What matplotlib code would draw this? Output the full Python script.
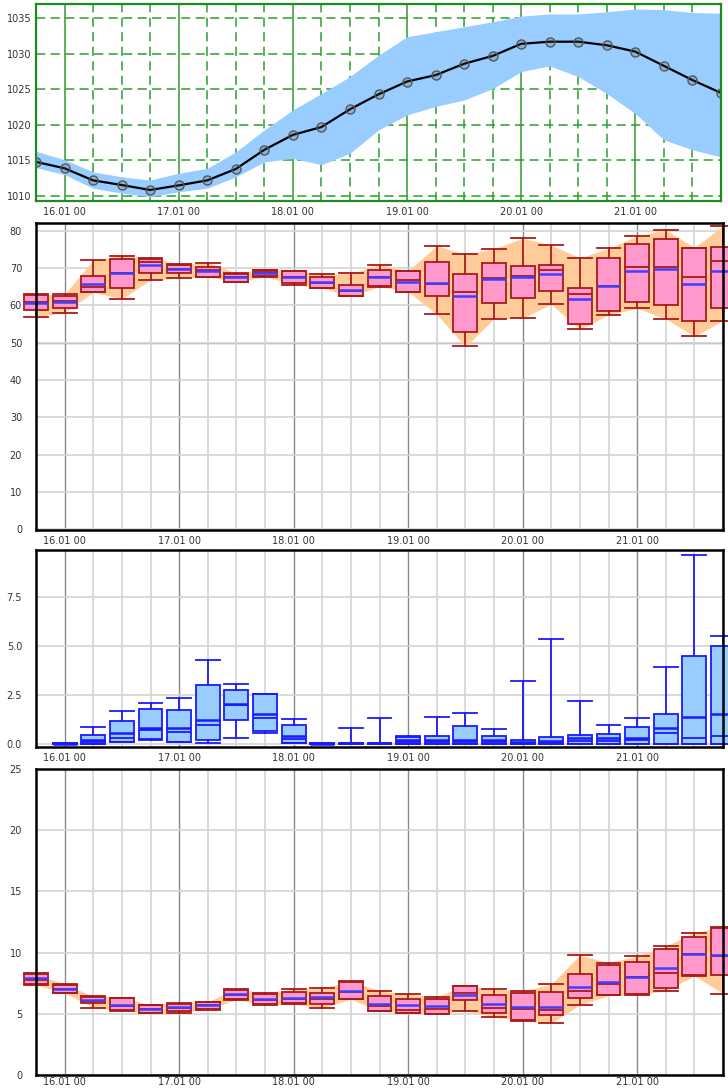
import numpy as np
import pandas as pd
import matplotlib
matplotlib.use('Agg')
import matplotlib.pyplot as plt
import matplotlib.dates as mdates

# Время прогноза: каждые 6 часов
times = pd.date_range('2024-01-15 18:00', '2024-01-21 18:00', freq='6h')

# Давление: среднее и разброс ансамбля
pres_mean = [1014.8, 1013.9, 1012.2, 1011.55, 1010.85, 1011.5, 1012.2, 1013.8, 1016.5, 1018.6,
             1019.7, 1022.2, 1024.3, 1026.1, 1027.0, 1028.6, 1029.7, 1031.4, 1031.7, 1031.7,
             1031.2, 1030.3, 1028.3, 1026.3, 1024.5]
pres_upper = [1016.3, 1015.1, 1013.4, 1012.7, 1012.25, 1013.2, 1013.9, 1016.2, 1019.3, 1022.1,
              1024.4, 1026.8, 1029.8, 1032.4, 1033.1, 1033.8, 1034.5, 1035.3, 1035.6, 1035.6,
              1035.9, 1036.3, 1036.2, 1035.8, 1035.7]
pres_lower = [1014.0, 1013.0, 1011.1, 1010.4, 1009.9, 1010.6, 1011.1, 1012.7, 1014.8, 1015.3,
              1014.4, 1016.0, 1019.3, 1021.4, 1022.6, 1023.5, 1025.1, 1027.5, 1028.3, 1026.8,
              1024.4, 1021.6, 1017.9, 1016.5, 1015.5]

# Влажность
hum_q1 = [58.8, 59.3, 63.5, 64.8, 68.6, 68.6, 67.7, 66.4, 67.9, 66.0, 64.8, 62.6, 65.3,
          63.7, 62.4, 52.8, 60.6, 61.9, 63.9, 55.0, 58.6, 60.8, 60.1, 55.7, 59.4]
hum_q3 = [62.7, 62.6, 67.9, 72.4, 72.5, 70.9, 70.4, 68.5, 69.5, 69.1, 67.7, 65.5, 69.5,
          69.1, 71.6, 68.5, 71.3, 70.7, 70.9, 64.8, 72.7, 76.5, 77.7, 75.5, 75.8]
hum_min = [56.9, 58.1, 63.5, 61.8, 66.8, 67.3, 67.7, 66.2, 67.7, 65.6, 64.6, 62.6, 65.0,
           63.7, 57.6, 49.0, 56.4, 56.6, 60.3, 53.6, 57.5, 59.2, 56.4, 51.7, 55.9]
hum_max = [63.0, 63.0, 72.2, 73.3, 72.8, 71.0, 71.5, 68.7, 69.6, 69.3, 68.3, 68.6, 70.9,
           69.3, 76.0, 73.7, 75.2, 78.0, 76.2, 72.7, 75.3, 78.6, 80.3, 75.5, 81.4]
hum_mean = [60.6, 61.0, 65.7, 68.6, 70.9, 69.7, 69.3, 67.5, 68.8, 67.7, 66.2, 64.2, 67.5,
            66.4, 66.0, 62.6, 67.1, 67.5, 68.5, 61.8, 65.3, 69.1, 69.8, 65.8, 69.3]
hum_med = [60.8, 61.2, 65.0, 68.8, 71.6, 69.9, 69.5, 67.6, 68.9, 67.5, 66.0, 64.0, 67.7,
           66.8, 65.8, 63.5, 67.4, 67.8, 69.5, 63.0, 65.3, 70.4, 70.2, 67.5, 71.8]

# Осадки (с 16.01 00)
prec_q1 = [0.0, 0.0, 0.12, 0.24, 0.12, 0.2, 1.22, 0.66, 0.07, 0.0, 0.0, 0.0,
           0.0, 0.0, 0.0, 0.0, 0.0, 0.0, 0.0, 0.0, 0.0, 0.0, 0.0, 0.0]
prec_q3 = [0.04, 0.46, 1.17, 1.77, 1.73, 3.0, 2.75, 2.53, 0.97, 0.04, 0.05, 0.05,
           0.37, 0.42, 0.92, 0.41, 0.2, 0.34, 0.46, 0.49, 0.85, 1.53, 4.5, 4.99]
prec_min = [0.0, 0.0, 0.1, 0.22, 0.1, 0.07, 0.32, 0.58, 0.05, 0.0, 0.0, 0.0,
            0.0, 0.0, 0.0, 0.0, 0.0, 0.0, 0.0, 0.0, 0.0, 0.0, 0.0, 0.0]
prec_max = [0.04, 0.88, 1.68, 2.1, 2.36, 4.28, 3.04, 2.53, 1.26, 0.04, 0.83, 1.34,
            0.41, 1.39, 1.6, 0.76, 3.23, 5.35, 2.19, 0.97, 1.31, 3.94, 9.63, 5.52]
prec_mean = [0.02, 0.2, 0.55, 0.83, 0.83, 1.22, 2.04, 1.53, 0.42, 0.02, 0.03, 0.03,
             0.2, 0.2, 0.2, 0.2, 0.08, 0.15, 0.32, 0.29, 0.32, 0.83, 1.36, 1.53]
prec_med = [0.01, 0.12, 0.3, 0.71, 0.63, 0.97, 2.0, 1.31, 0.25, 0.01, 0.01, 0.01,
            0.1, 0.1, 0.1, 0.1, 0.05, 0.05, 0.15, 0.15, 0.2, 0.54, 0.29, 0.42]

# Ветер
wind_q1 = [7.41, 6.73, 5.92, 5.29, 5.1, 5.24, 5.37, 6.19, 5.78, 5.86, 5.84, 6.24, 5.24,
           5.1, 5.02, 6.11, 5.1, 4.48, 4.89, 6.32, 6.54, 6.6, 7.08, 8.14, 8.17]
wind_q3 = [8.22, 7.33, 6.41, 6.27, 5.7, 5.84, 5.97, 6.92, 6.65, 6.79, 6.73, 7.63, 6.46,
           6.19, 6.19, 7.27, 6.51, 6.68, 6.79, 8.22, 8.96, 9.26, 10.3, 11.29, 11.97]
wind_min = [7.35, 6.7, 5.51, 5.25, 5.05, 5.1, 5.35, 6.15, 5.75, 5.8, 5.46, 6.2, 5.2,
            5.05, 5.0, 5.24, 4.75, 4.42, 4.23, 5.73, 6.5, 6.55, 6.87, 8.1, 6.65]
wind_max = [8.3, 7.4, 6.45, 6.3, 5.75, 5.9, 6.0, 7.0, 6.73, 7.0, 7.08, 7.7, 6.87,
            6.6, 6.4, 7.3, 7.0, 6.87, 7.41, 9.8, 9.17, 9.72, 10.53, 11.62, 12.1]
wind_mean = [7.9, 7.06, 6.13, 5.73, 5.43, 5.56, 5.73, 6.6, 6.19, 6.27, 6.38, 6.87, 5.78,
             5.7, 5.65, 6.51, 5.78, 5.56, 5.59, 7.19, 7.63, 8.0, 8.71, 9.9, 9.8]
wind_med = [7.8, 7.0, 6.05, 5.65, 5.4, 5.5, 5.7, 6.55, 6.15, 6.2, 6.19, 6.8, 5.6,
            5.3, 5.38, 6.7, 5.5, 5.37, 5.3, 6.87, 7.41, 8.0, 8.36, 9.85, 9.7]

x = mdates.date2num(times)
box_w = 5 / 24  # ширина ящика, дни

plt.rcParams['font.family'] = 'DejaVu Sans'
fig = plt.figure(figsize=(7.28, 10.89), dpi=100)

left, width = 36 / 728, 687 / 728
ax1 = fig.add_axes([left, 1 - 201 / 1089, 685 / 728, 197 / 1089])
ax2 = fig.add_axes([left, 1 - 530 / 1089, width, 307 / 1089])
ax3 = fig.add_axes([left, 1 - 747 / 1089, width, 197 / 1089])
ax4 = fig.add_axes([left, 1 - 1075 / 1089, width, 306 / 1089])


def setup_axis(ax, frame_color, frame_lw, ypad=10, xpad=4):
    ax.set_xlim(x[0], x[-1])
    ax.xaxis.set_major_locator(mdates.DayLocator())
    ax.xaxis.set_minor_locator(mdates.HourLocator(byhour=[6, 12, 18]))
    ax.xaxis.set_major_formatter(mdates.DateFormatter('%d.%m %H'))
    ax.tick_params(which='both', length=0, labelsize=7, labelcolor='#333333')
    ax.tick_params(axis='x', pad=xpad)
    ax.tick_params(axis='y', pad=ypad)
    ax.set_axisbelow(True)
    for s in ax.spines.values():
        s.set_color(frame_color)
        s.set_linewidth(frame_lw)
        s.set_zorder(5)


def draw_boxes(ax, pos, q1, q3, lo, hi, med, mean, face, edge, mean_color, band=None):
    if band is not None:
        ax.fill_between(pos, lo, hi, color=band, lw=0, zorder=1)
    stats = [dict(q1=a, q3=b, whislo=c, whishi=d, med=e, mean=f)
             for a, b, c, d, e, f in zip(q1, q3, lo, hi, med, mean)]
    art = ax.bxp(stats, positions=pos, widths=box_w, capwidths=box_w,
                 patch_artist=True, showmeans=True, meanline=True, showfliers=False,
                 manage_ticks=False, zorder=3,
                 boxprops=dict(facecolor=face, edgecolor=edge, linewidth=1.3),
                 whiskerprops=dict(color=edge, linewidth=1.3),
                 capprops=dict(color=edge, linewidth=1.3),
                 medianprops=dict(color=edge, linewidth=1.3),
                 meanprops=dict(color=mean_color, linestyle='-', linewidth=1.8))
    for key in art:
        for a in art[key]:
            a.set_clip_on(False)


def gray_grid(ax):
    ax.grid(which='major', axis='x', color='#8a8a8a', lw=1.0)
    ax.grid(which='minor', axis='x', color='#d4d4d4', lw=1.2)
    ax.grid(which='major', axis='y', color='#d4d4d4', lw=1.2)


# Панель 1: давление
green = '#2e9e2e'
setup_axis(ax1, '#1e8c1e', 1.6, ypad=3)
ax1.set_ylim(1009.3, 1037.0)
ax1.set_yticks([1010, 1015, 1020, 1025, 1030, 1035])
ax1.grid(which='major', axis='x', color=green, lw=1.1)
ax1.grid(which='minor', axis='x', color=green, lw=1.1, ls=(0, (6, 3.5)))
ax1.grid(which='major', axis='y', color=green, lw=1.1, ls=(0, (6, 3.5)))
ax1.fill_between(x, pres_lower, pres_upper, color='#99ccff', lw=0, zorder=2)
ax1.plot(x, pres_mean, color='black', lw=1.6, marker='o', ms=6.5,
         mfc=(0.3, 0.3, 0.3, 0.2), mec='#555555', mew=1.0, zorder=3)

# Панель 2: влажность
setup_axis(ax2, 'black', 1.8)
gray_grid(ax2)
ax2.axhline(50, color='#8a8a8a', lw=1.0, zorder=0.5)
ax2.set_ylim(-0.2, 82.1)
ax2.set_yticks(range(0, 81, 10))
draw_boxes(ax2, x, hum_q1, hum_q3, hum_min, hum_max, hum_med, hum_mean,
           '#ff99cc', '#aa1a1a', '#3f3fff', band='#ffcc99')

# Панель 3: осадки
setup_axis(ax3, 'black', 1.8)
gray_grid(ax3)
ax3.set_ylim(-0.15, 9.88)
ax3.set_yticks([0, 2.5, 5.0, 7.5])
ax3.yaxis.set_major_formatter('{x:.1f}')
draw_boxes(ax3, x[1:], prec_q1, prec_q3, prec_min, prec_max, prec_med, prec_mean,
           '#99ccff', '#1a1aff', '#1a1aff')

# Панель 4: ветер
setup_axis(ax4, 'black', 1.8, xpad=1.5)
gray_grid(ax4)
ax4.set_ylim(0, 25)
ax4.set_yticks(range(0, 26, 5))
draw_boxes(ax4, x, wind_q1, wind_q3, wind_min, wind_max, wind_med, wind_mean,
           '#ff99cc', '#aa1a1a', '#3f3fff', band='#ffcc99')

plt.savefig('out.png', dpi=100)
